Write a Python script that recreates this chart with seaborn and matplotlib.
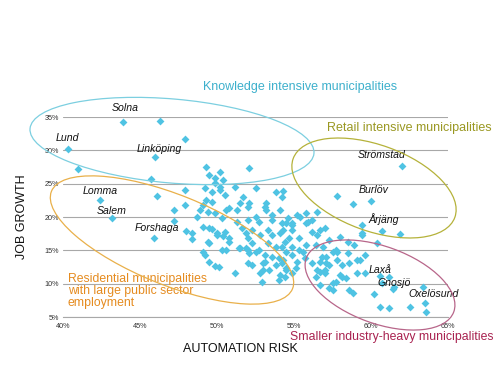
import matplotlib
matplotlib.use("Agg")
import matplotlib.pyplot as plt
import seaborn as sns
import pandas as pd
from matplotlib.patches import Ellipse
from matplotlib.transforms import Affine2D

# ---- data: automation risk (%) and job growth (%) per municipality ----
automation_risk = [
    43.9, 46.3, 47.9, 40.3, 46.0, 41.0, 45.7, 47.9, 46.1, 42.4, 47.9, 43.2, 47.2, 47.2, 45.9,
    48.0, 48.4, 48.4, 49.3, 49.5, 50.2, 49.9, 50.4, 52.1, 49.2, 49.7, 50.2, 50.5, 49.3, 48.9,
    49.1, 49.7, 49.9, 50.3, 48.7, 50.6, 49.9, 50.2, 51.2, 52.5, 51.7, 51.5, 52.1, 51.3, 50.8,
    52.0, 53.2, 53.2, 53.8, 54.2, 54.3, 53.1, 54.1, 49.4, 51.3, 52.0, 52.5, 52.7, 53.6, 54.2,
    49.5, 50.0, 50.5, 50.8, 51.6, 51.9, 52.3, 52.0, 52.8, 53.3, 53.6, 54.1, 49.4, 50.3, 50.6,
    51.4, 51.9, 52.3, 52.7, 53.3, 53.8, 54.2, 52.1, 53.1, 53.6, 54.0, 49.5, 50.1, 52.0, 52.3,
    53.0, 53.8, 54.2, 51.2, 52.8, 54.1, 52.9, 54.0, 49.1, 49.7, 50.0, 50.4, 49.5, 50.8, 49.1,
    49.2, 49.9, 51.5, 52.0, 52.5, 53.1, 53.4, 53.0, 54.4, 54.9, 54.5, 55.2, 55.8, 56.5, 54.5,
    54.9, 55.8, 56.2, 54.3, 54.9, 56.2, 56.5, 57.0, 54.4, 54.7, 55.3, 55.8, 56.4, 54.9, 55.3,
    55.6, 54.5, 54.9, 54.3, 55.2, 55.7, 57.7, 58.5, 56.9, 57.1, 57.3, 57.8, 58.5, 59.1, 56.7,
    56.2, 54.5, 55.1, 56.5, 57.0, 56.4, 58.1, 58.1, 53.6, 54.6, 54.9, 55.4, 55.9, 56.7, 57.3,
    60.4, 58.0, 59.4, 57.8, 58.8, 60.0, 59.4, 59.4, 60.7, 61.9, 62.0, 60.6, 61.2, 60.7, 61.4,
    61.5, 63.4, 63.5, 63.6, 62.5, 61.2, 60.6, 60.2, 58.6, 58.8, 59.1, 59.6, 59.3, 59.6, 58.6,
    58.0, 58.4, 57.7, 57.3, 58.9, 57.0, 56.7, 57.5, 57.8, 56.8, 57.1, 56.7, 57.5, 57.5,
]
job_growth = [
    34.2, 34.4, 31.7, 30.2, 29.0, 27.2, 25.7, 24.0, 23.1, 22.5, 21.8, 19.8, 21.0, 19.4, 16.8,
    17.9, 17.6, 16.7, 27.5, 26.3, 26.8, 25.9, 25.5, 27.4, 24.4, 23.8, 24.1, 23.3, 22.5, 21.0,
    21.8, 22.3, 20.6, 19.8, 20.0, 21.0, 25.1, 24.5, 24.5, 24.3, 23.0, 22.1, 22.1, 21.0, 21.4,
    21.5, 22.1, 21.0, 23.8, 23.0, 23.9, 21.5, 21.0, 20.8, 19.3, 19.6, 20.0, 19.3, 19.6, 19.1,
    18.4, 17.6, 17.8, 16.9, 18.4, 17.6, 18.1, 16.9, 17.3, 18.1, 17.3, 17.6, 16.3, 15.0, 15.0,
    15.4, 15.4, 16.1, 15.0, 16.1, 15.5, 15.5, 14.6, 14.3, 14.0, 13.9, 13.2, 12.5, 13.1, 12.8,
    13.1, 12.8, 13.1, 11.6, 11.6, 11.3, 10.2, 10.5, 18.5, 18.2, 17.3, 17.1, 16.1, 16.2, 14.7,
    14.3, 12.6, 15.3, 15.0, 14.7, 13.2, 12.0, 12.0, 11.0, 11.6, 12.4, 20.3, 20.6, 20.8, 19.1,
    19.1, 19.1, 19.6, 18.1, 18.1, 17.8, 17.3, 18.4, 16.3, 16.9, 16.9, 15.8, 15.8, 15.5, 15.0,
    14.7, 14.7, 14.3, 13.6, 13.2, 13.9, 15.0, 16.3, 15.5, 14.0, 12.8, 13.6, 14.6, 13.6, 13.2,
    13.1, 12.0, 12.4, 12.0, 11.6, 11.0, 12.8, 11.0, 20.3, 19.8, 18.8, 20.0, 19.3, 18.1, 16.5,
    16.1, 17.0, 17.3, 23.1, 21.9, 22.4, 18.8, 17.6, 17.9, 17.4, 27.6, 11.1, 11.0, 10.1, 9.2,
    9.5, 9.5, 7.1, 5.8, 6.5, 6.3, 6.5, 8.4, 9.0, 8.6, 11.6, 11.6, 13.6, 14.3, 13.1,
    11.3, 10.8, 10.2, 9.3, 15.8, 12.0, 9.8, 14.7, 14.7, 14.0, 13.1, 11.7, 10.1, 9.0,
]

x_ticks = [40, 45, 50, 55, 60, 65]
y_ticks = [5, 10, 15, 20, 25, 30, 35]

df = pd.DataFrame({"risk": automation_risk, "growth": job_growth})

W, H = 501, 376
fig = plt.figure(figsize=(W / 100, H / 100), dpi=100)
sns.set_style("white")
plt.rcParams["font.family"] = ["Liberation Sans", "DejaVu Sans"]

ax = fig.add_axes([63 / W, 1 - 317 / H, (448 - 63) / W, (317 - 117) / H])
ax.set_xlim(40, 65)
ax.set_ylim(5, 35)
ax.set_yticks(y_ticks)
ax.set_xticks(x_ticks)
ax.set_yticklabels([f"{v}%" for v in y_ticks], fontsize=5.2, color="#333333")
ax.set_xticklabels([f"{v}%" for v in x_ticks], fontsize=5.2, color="#333333")
ax.grid(axis="y", color="#a8a8a8", linewidth=0.8)
ax.grid(axis="x", visible=False)
ax.set_axisbelow(True)
for s in ["top", "right", "left"]:
    ax.spines[s].set_visible(False)
ax.spines["bottom"].set_color("#a8a8a8")
ax.spines["bottom"].set_linewidth(0.8)
ax.tick_params(axis="x", length=2, color="#a8a8a8", pad=2)
ax.tick_params(axis="y", length=0, pad=3)

sns.scatterplot(data=df, x="risk", y="growth", marker="D", s=16, color="#4FC3E3",
                linewidth=0, ax=ax, zorder=3)
ax.set_xlabel("")
ax.set_ylabel("")

# pixel-space helper transform (image pixels, y up)
pix = Affine2D().scale(1 / W, 1 / H) + fig.transFigure


def ell(cx, cy, w, h, ang, col):
    e = Ellipse((cx, H - cy), w, h, angle=-ang, fill=False, edgecolor=col,
                linewidth=0.9, transform=pix, zorder=4)
    fig.add_artist(e)


ell(172, 141, 285, 84, 5, "#7ccfe0")
ell(374, 188, 172, 86, 20, "#b5b23a")
ell(172, 240, 260, 90, 22, "#e9b04a")
ell(380, 285, 157, 77, 20, "#b8668a")


def txt(px, py, s, **kw):
    fig.text(px / W, 1 - py / H, s, **kw)


txt(300, 87, "Knowledge intensive municipalities", fontsize=9, color="#3db0cc",
    ha="center", va="center")
txt(327, 128, "Retail intensive municipalities", fontsize=9, color="#9a9822",
    ha="left", va="center")
txt(68, 291, "Residential municipalities\nwith large public sector\nemployment",
    fontsize=8.8, color="#e58b1f", ha="left", va="center", linespacing=1.05)
txt(392, 337, "Smaller industry-heavy municipalities", fontsize=8.8, color="#a8214f",
    ha="center", va="center")

cities = [("Solna", 125, 108), ("Lund", 67, 138), ("Linköping", 159, 149),
          ("Lomma", 100, 191), ("Salem", 112, 211), ("Forshaga", 157, 228),
          ("Strömstad", 382, 155), ("Burlöv", 374, 190), ("Årjäng", 384, 219),
          ("Laxå", 380, 270), ("Gnosjö", 394, 283), ("Oxelösund", 434, 294)]
for name, px, py in cities:
    txt(px, py, name, fontsize=7.6, style="italic", color="#111111",
        ha="center", va="center")

txt(240, 349, "AUTOMATION RISK", fontsize=9, color="#111111", ha="center", va="center")
txt(22, 217, "JOB GROWTH", fontsize=9, color="#111111", ha="center", va="center",
    rotation=90)

fig.savefig("out.png", dpi=100, facecolor="white")
